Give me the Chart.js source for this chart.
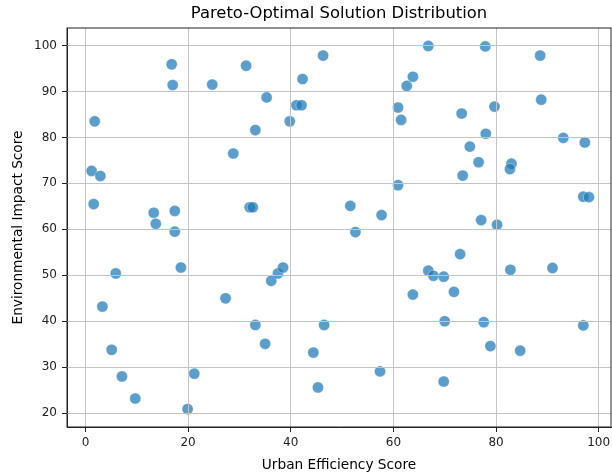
<!DOCTYPE html>
<html>
<head>
<meta charset="utf-8">
<script src="https://cdn.jsdelivr.net/npm/chart.js@4/dist/chart.umd.min.js"></script>
<style>
  html, body { margin: 0; padding: 0; background: #fff; }
  #wrap { width: 612px; height: 475px; }
</style>
</head>
<body>
<div id="wrap"><canvas id="chart" width="612" height="475"></canvas></div>
<script>
// ---- data ----
const urbanScore = [
  16.8, 17.0, 24.7, 31.3, 46.3, 42.3, 35.3, 41.1, 42.1, 39.8, 33.1, 1.8, 28.8, 1.2, 2.9, 1.6,
  13.3, 13.7, 17.4, 32.0, 32.6, 17.4,
  66.8, 77.9, 88.6, 63.8, 62.6, 60.9, 61.5, 73.3, 79.7, 88.8, 78.0, 93.1, 97.3, 74.9, 76.6,
  83.0, 82.7, 73.5, 60.9, 97.0, 98.1, 51.6, 57.7, 77.1, 80.2, 52.6,
  5.9, 3.3, 18.6, 27.3, 33.1, 35.0, 36.2, 37.5, 38.5, 5.1, 7.1, 9.7, 21.2, 19.9, 44.4, 46.5, 45.3,
  73.0, 66.8, 67.8, 69.8, 82.8, 91.0, 63.8, 71.8, 70.0, 77.6, 97.0, 78.9, 84.7, 57.4, 69.8
];
const envScore = [
  95.9, 91.4, 91.5, 95.6, 97.8, 92.7, 88.7, 87.0, 87.0, 83.5, 81.6, 83.5, 76.5, 72.7, 71.6, 65.5,
  63.6, 61.2, 64.0, 64.8, 64.8, 59.5,
  99.9, 99.8, 97.8, 93.2, 91.2, 86.5, 83.8, 85.2, 86.7, 88.2, 80.8, 79.9, 78.9, 78.0, 74.6,
  74.3, 73.1, 71.7, 69.6, 67.1, 67.0, 65.1, 63.1, 62.0, 61.0, 59.4,
  50.4, 43.2, 51.7, 45.0, 39.2, 35.1, 48.8, 50.4, 51.7, 33.8, 28.0, 23.2, 28.6, 20.9, 33.2, 39.2, 25.6,
  54.6, 51.0, 49.9, 49.7, 51.2, 51.6, 45.8, 46.4, 40.0, 39.8, 39.1, 34.6, 33.6, 29.1, 26.9
];
const xTicks = [0, 20, 40, 60, 80, 100];
const yTicks = [20, 30, 40, 50, 60, 70, 80, 90, 100];
const chartTitle = "Pareto-Optimal Solution Distribution";

const points = urbanScore.map((x, i) => ({ x: x, y: envScore[i] }));

const FONT = "'DejaVu Sans', sans-serif";
const GRID = "#c4c4c4";

// grid drawn on top of the markers, like matplotlib does
const gridOver = {
  id: "gridOver",
  afterDatasetsDraw(chart) {
    const a = chart.chartArea, ctx = chart.ctx;
    const sx = chart.scales.x, sy = chart.scales.y;
    ctx.save();
    ctx.strokeStyle = GRID;
    ctx.lineWidth = 1;
    ctx.beginPath();
    xTicks.forEach(v => {
      const px = Math.round(sx.getPixelForValue(v) - 0.5) + 0.5;
      ctx.moveTo(px, a.top); ctx.lineTo(px, a.bottom);
    });
    yTicks.forEach(v => {
      const py = Math.round(sy.getPixelForValue(v) - 0.5) + 0.5;
      ctx.moveTo(a.left, py); ctx.lineTo(a.right, py);
    });
    ctx.stroke();
    ctx.restore();
  }
};

// matplotlib-style box around the plot + title centred over the axes
const frame = {
  id: "frame",
  afterDraw(chart) {
    const a = chart.chartArea, ctx = chart.ctx;
    ctx.save();
    ctx.strokeStyle = "#222";
    ctx.lineWidth = 1;
    ctx.strokeRect(a.left, a.top, a.right - a.left, a.bottom - a.top);
    ctx.fillStyle = "#000";
    ctx.font = "16.4px " + FONT;
    ctx.textAlign = "center";
    ctx.textBaseline = "middle";
    ctx.fillText(chartTitle, (a.left + a.right) / 2, 13.5);
    ctx.restore();
  }
};

const noEdgePad = axis => {
  axis.paddingLeft = 0; axis.paddingRight = 0;
  axis.paddingTop = 0; axis.paddingBottom = 0;
};

new Chart(document.getElementById("chart"), {
  type: "scatter",
  data: {
    datasets: [{
      data: points,
      backgroundColor: "rgba(31,119,180,0.72)",
      borderColor: "rgba(255,255,255,0.45)",
      borderWidth: 0.8,
      pointRadius: 5.6,
      pointHoverRadius: 5.6
    }]
  },
  options: {
    responsive: false,
    animation: false,
    layout: { autoPadding: false, padding: { left: 0, right: 1, top: 28, bottom: 0 } },
    plugins: {
      legend: { display: false },
      tooltip: { enabled: false },
      title: { display: false }
    },
    scales: {
      x: {
        type: "linear",
        min: -3.6,
        max: 102.4,
        afterBuildTicks: axis => { axis.ticks = xTicks.map(v => ({ value: v })); },
        afterFit: axis => { axis.height = 48; noEdgePad(axis); },
        grid: { drawOnChartArea: false, tickLength: 5, tickColor: "#222" },
        border: { color: "#222", width: 1 },
        ticks: { color: "#222", font: { family: FONT, size: 12 }, padding: 4, maxRotation: 0 },
        title: {
          display: true,
          text: "Urban Efficiency Score",
          color: "#000",
          font: { family: FONT, size: 13.7 },
          padding: { top: 0, bottom: 1 }
        }
      },
      y: {
        type: "linear",
        min: 17.0,
        max: 103.8,
        afterBuildTicks: axis => { axis.ticks = yTicks.map(v => ({ value: v })); },
        afterFit: axis => { axis.width = 67; noEdgePad(axis); },
        grid: { drawOnChartArea: false, tickLength: 5, tickColor: "#222" },
        border: { color: "#222", width: 1 },
        ticks: { color: "#222", font: { family: FONT, size: 12 }, padding: 5 },
        title: {
          display: true,
          text: "Environmental Impact Score",
          color: "#000",
          font: { family: FONT, size: 13.7 },
          padding: { top: 10, bottom: 0 }
        }
      }
    }
  },
  plugins: [gridOver, frame]
});
</script>
</body>
</html>
